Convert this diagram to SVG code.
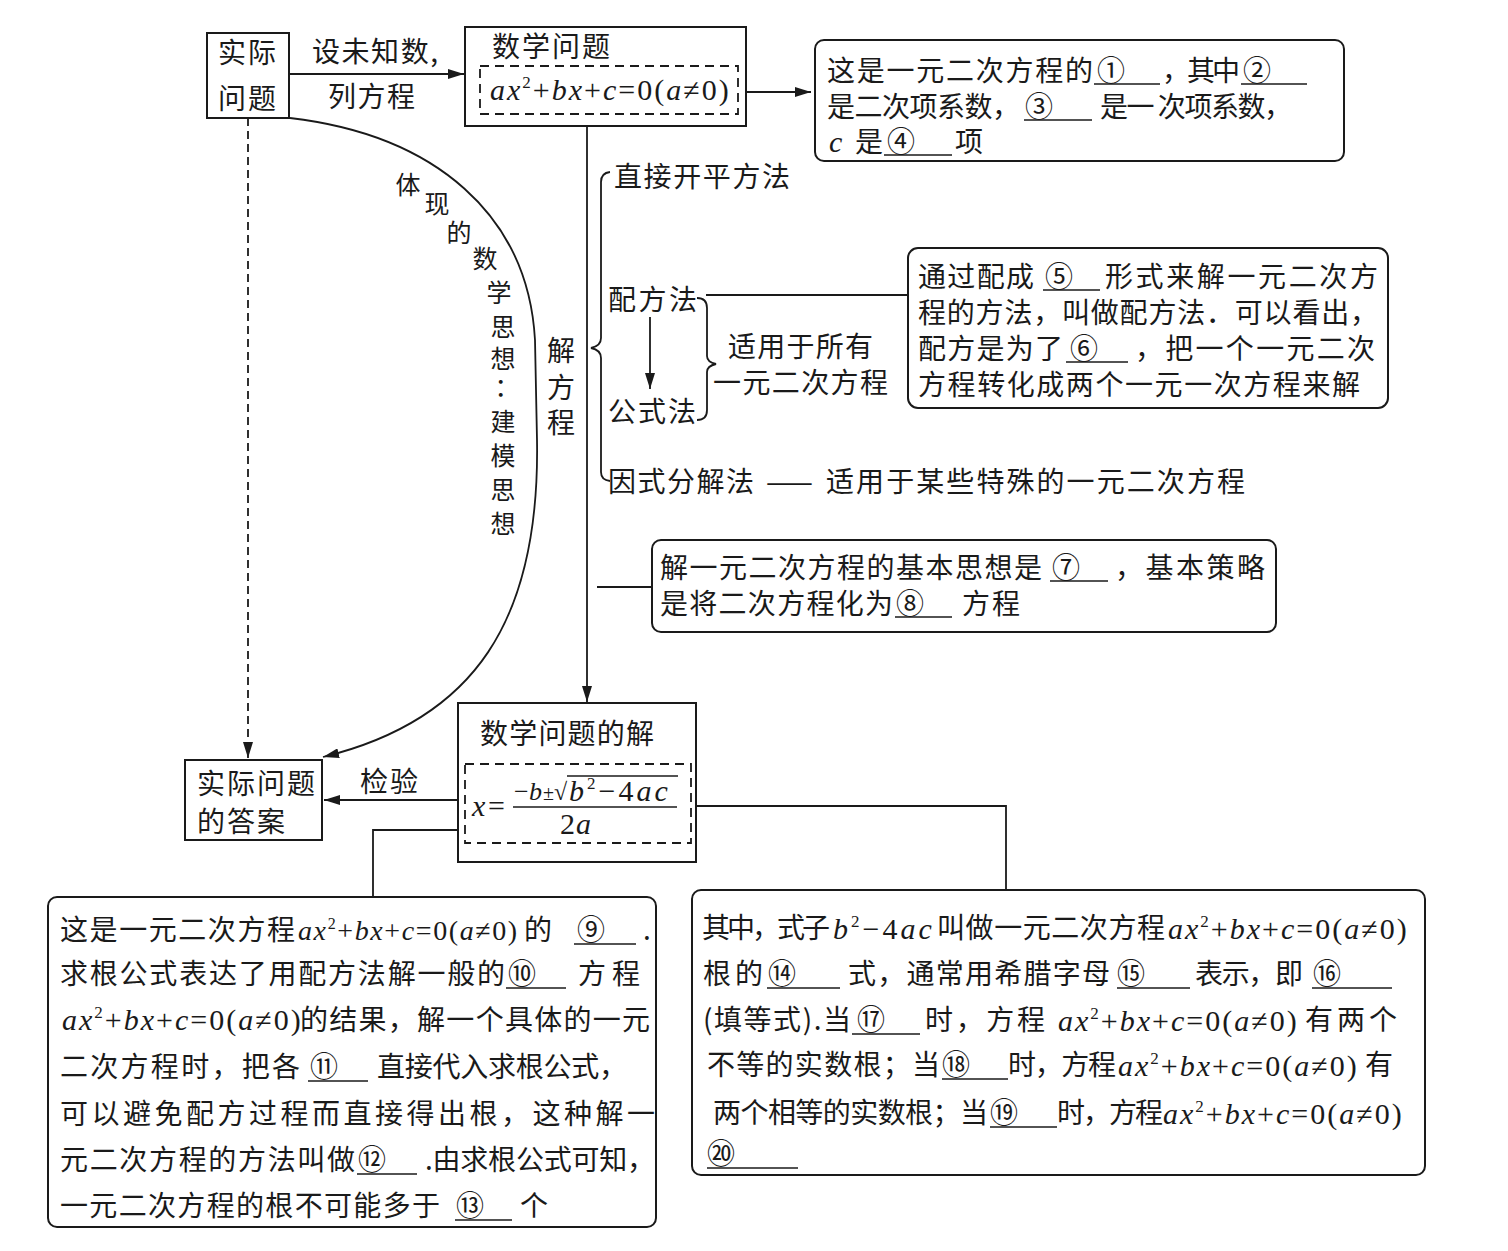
<svg xmlns="http://www.w3.org/2000/svg" width="1508" height="1251" viewBox="0 0 1508 1251">
<style>
.t{font-family:"Noto Sans CJK SC","Noto Sans",sans-serif;font-size:28px;fill:#1a1a1a}
.v{font-family:"Noto Sans CJK SC","Noto Sans",sans-serif;font-size:25px;fill:#1a1a1a}
.m{font-family:"Liberation Serif",serif;font-size:30px;fill:#1a1a1a;letter-spacing:2px}
.i{font-style:italic}
.b{fill:#fff;stroke:#1a1a1a;stroke-width:2}
.d{fill:none;stroke:#1a1a1a;stroke-width:1.8;stroke-dasharray:9 6}
.l{fill:none;stroke:#1a1a1a;stroke-width:1.8}
.u{stroke:#1a1a1a;stroke-width:1.6}
</style>
<defs>
<marker id="ah" viewBox="0 0 16 10" refX="16" refY="5" markerWidth="16" markerHeight="10" orient="auto" markerUnits="userSpaceOnUse"><path d="M0,0 L16,5 L0,10 z" fill="#1a1a1a"/></marker>
</defs>
<rect width="1508" height="1251" fill="#fff"/>

<g id="connectors">
<line class="l" x1="289" y1="74" x2="464" y2="74" marker-end="url(#ah)"/>
<line class="l" x1="738" y1="92" x2="811" y2="92" marker-end="url(#ah)"/>
<line class="l" x1="587" y1="126" x2="587" y2="702" marker-end="url(#ah)"/>
<path class="l" d="M610,172 Q601,173 601,182 L601,338 Q601,346 591,348 Q601,350 601,358 L601,472 Q601,480 610,481"/>
<line class="l" x1="650" y1="317" x2="650" y2="389" marker-end="url(#ah)"/>
<path class="l" d="M697,298 Q707,298 707,308 L707,356 Q707,362 716,364 Q707,366 707,372 L707,410 Q707,420 697,420"/>
<line class="l" x1="706" y1="295" x2="908" y2="295"/>
<line class="l" x1="597" y1="587" x2="652" y2="587"/>
<path class="l" d="M290,118 C435,135 528,215 535,340 L537,440 C540,620 475,720 323,757" marker-end="url(#ah)"/>
<line class="l" x1="248" y1="118" x2="248" y2="758" stroke-dasharray="8 5" marker-end="url(#ah)"/>
<line class="l" x1="458" y1="800" x2="324" y2="800" marker-end="url(#ah)"/>
<path class="l" d="M465,830 L373,830 L373,897"/>
<path class="l" d="M690,806 L1006,806 L1006,890"/>
</g>

<g id="n-real-problem">
<rect class="b" x="207" y="33" width="82" height="85"/>
<text class="t" x="248" y="63" text-anchor="middle" letter-spacing="2">实际</text>
<text class="t" x="248" y="109" text-anchor="middle" letter-spacing="2">问题</text>
</g>
<g id="lbl-setup">
<text class="t" x="312" y="62" textLength="126">设未知数,</text>
<text class="t" x="328" y="107" textLength="87">列方程</text>
</g>

<g id="n-math-problem">
<rect class="b" x="465" y="27" width="281" height="99"/>
<text class="t" x="492" y="57" textLength="118">数学问题</text>
<rect class="d" x="480" y="66" width="258" height="48"/>
<text class="m" x="490" y="100"><tspan class="i">ax</tspan><tspan dy="-12" font-size="17">2</tspan><tspan dy="12">+</tspan><tspan class="i">bx</tspan>+<tspan class="i">c</tspan>=0(<tspan class="i">a</tspan>≠0)</text>
</g>

<g id="n-note1">
<rect class="b" x="815" y="40" width="529" height="121" rx="9"/>
<text class="t" x="827" y="81" textLength="266">这是一元二次方程的</text>
<text class="t" x="1097" y="81">①</text>
<line class="u" x1="1094" y1="84" x2="1160" y2="84"/>
<text class="t" x="1162" y="81" textLength="78">，其中</text>
<text class="t" x="1243" y="81">②</text>
<line class="u" x1="1241" y1="84" x2="1307" y2="84"/>
<text class="t" x="827" y="117" textLength="193">是二次项系数，</text>
<text class="t" x="1025" y="117">③</text>
<line class="u" x1="1024" y1="120" x2="1092" y2="120"/>
<text class="t" x="1100" y="117" textLength="192">是一 次项系数，</text>
<text class="m i" x="829" y="152">c</text>
<text class="t" x="855" y="152">是</text>
<text class="t" x="887" y="152">④</text>
<line class="u" x1="884" y1="155" x2="952" y2="155"/>
<text class="t" x="955" y="152">项</text>
</g>

<g id="n-methods">
<text class="t" x="614" y="187" textLength="176">直接开平方法</text>
<text class="t" x="608" y="310" textLength="89">配方法</text>
<text class="t" x="608" y="422" textLength="88">公式法</text>
<text class="t" x="728" y="357" textLength="145">适用于所有</text>
<text class="t" x="713" y="393" textLength="175">一元二次方程</text>
<text class="t" x="608" y="492" textLength="146">因式分解法</text>
<text class="t" x="766" y="492" textLength="56">——</text>
<text class="t" x="826" y="492" textLength="419">适用于某些特殊的一元二次方程</text>
</g>

<g id="lbl-solve">
<text class="t" x="561" y="361" text-anchor="middle">解</text>
<text class="t" x="561" y="398" text-anchor="middle">方</text>
<text class="t" x="561" y="433" text-anchor="middle">程</text>
</g>

<g id="lbl-modeling" text-anchor="middle">
<text class="v" x="408" y="194">体</text>
<text class="v" x="437" y="213">现</text>
<text class="v" x="459" y="242">的</text>
<text class="v" x="485" y="268">数</text>
<text class="v" x="499" y="302">学</text>
<text class="v" x="503" y="336">思</text>
<text class="v" x="503" y="368">想</text>
<text class="v" x="507" y="396">：</text>
<text class="v" x="503" y="431">建</text>
<text class="v" x="503" y="465">模</text>
<text class="v" x="503" y="499">思</text>
<text class="v" x="503" y="533">想</text>
</g>

<g id="n-peifang-note">
<rect class="b" x="908" y="248" width="480" height="160" rx="10"/>
<text class="t" x="918" y="287" textLength="116">通过配成</text>
<text class="t" x="1045" y="287">⑤</text>
<line class="u" x1="1043" y1="290" x2="1100" y2="290"/>
<text class="t" x="1105" y="287" textLength="273">形式来解一元二次方</text>
<text class="t" x="918" y="323" textLength="460">程的方法，叫做配方法．可以看出，</text>
<text class="t" x="918" y="359" textLength="145">配方是为了</text>
<text class="t" x="1070" y="359">⑥</text>
<line class="u" x1="1066" y1="362" x2="1128" y2="362"/>
<text class="t" x="1135" y="359" textLength="240">，把一个一元二次</text>
<text class="t" x="918" y="395" textLength="442">方程转化成两个一元一次方程来解</text>
</g>

<g id="n-idea-note">
<rect class="b" x="652" y="540" width="624" height="92" rx="9"/>
<text class="t" x="660" y="578" textLength="382">解一元二次方程的基本思想是</text>
<text class="t" x="1052" y="578">⑦</text>
<line class="u" x1="1050" y1="581" x2="1108" y2="581"/>
<text class="t" x="1115" y="578" textLength="150">，基本策略</text>
<text class="t" x="660" y="614" textLength="233">是将二次方程化为</text>
<text class="t" x="896" y="614">⑧</text>
<line class="u" x1="895" y1="617" x2="952" y2="617"/>
<text class="t" x="962" y="614" textLength="58">方程</text>
</g>

<g id="n-solution">
<rect class="b" x="458" y="703" width="238" height="159"/>
<text class="t" x="480" y="744" textLength="174">数学问题的解</text>
<rect class="d" x="465" y="764" width="226" height="79"/>
<text class="m i" x="472" y="816" style="letter-spacing:0">x</text>
<text class="m" x="488" y="816" style="letter-spacing:0">=</text>
<text class="m" x="514" y="800" style="font-size:26px;letter-spacing:0">−</text>
<text class="m i" x="529" y="800" style="font-size:26px;letter-spacing:0">b</text>
<text class="m" x="543" y="800" style="font-size:20px;letter-spacing:0">±</text>
<text class="m" x="554" y="800" style="font-size:24px;letter-spacing:0">√</text>
<line class="u" x1="567" y1="776" x2="678" y2="776"/>
<text class="m" x="569" y="801" style="letter-spacing:3px"><tspan class="i">b</tspan><tspan dy="-12" font-size="17">2</tspan><tspan dy="12">−4</tspan><tspan class="i">ac</tspan></text>
<line class="u" x1="513" y1="807" x2="677" y2="807"/>
<text class="m" x="560" y="834" style="letter-spacing:1px">2<tspan class="i">a</tspan></text>
</g>

<g id="n-answer">
<rect class="b" x="185" y="760" width="137" height="80"/>
<text class="t" x="197" y="794" textLength="118">实际问题</text>
<text class="t" x="197" y="832" textLength="88">的答案</text>
</g>
<g id="lbl-check">
<text class="t" x="360" y="792" textLength="58">检验</text>
</g>

<g id="n-formula-note">
<rect class="b" x="48" y="897" width="608" height="330" rx="9"/>
<text class="t" x="60" y="940" textLength="235">这是一元二次方程</text>
<text class="m" x="298" y="940" style="font-size:28px;letter-spacing:1.6px"><tspan class="i">ax</tspan><tspan dy="-11" font-size="16">2</tspan><tspan dy="11">+</tspan><tspan class="i">bx</tspan>+<tspan class="i">c</tspan>=0(<tspan class="i">a</tspan>≠0)</text>
<text class="t" x="524" y="940">的</text>
<text class="t" x="577" y="940">⑨</text>
<line class="u" x1="574" y1="944" x2="636" y2="944"/>
<text class="t" x="643" y="940">.</text>
<text class="t" x="60" y="984" textLength="445">求根公式表达了用配方法解一般的</text>
<text class="t" x="508" y="984">⑩</text>
<line class="u" x1="506" y1="988" x2="566" y2="988"/>
<text class="t" x="578" y="984">方</text>
<text class="t" x="612" y="984">程</text>
<text class="m" x="62" y="1030"><tspan class="i">ax</tspan><tspan dy="-12" font-size="17">2</tspan><tspan dy="12">+</tspan><tspan class="i">bx</tspan>+<tspan class="i">c</tspan>=0(<tspan class="i">a</tspan>≠0)</text>
<text class="t" x="300" y="1030" textLength="350">的结果，解一个具体的一元</text>
<text class="t" x="60" y="1077" textLength="240">二次方程时，把各</text>
<text class="t" x="310" y="1077">⑪</text>
<line class="u" x1="308" y1="1081" x2="368" y2="1081"/>
<text class="t" x="377" y="1077" textLength="250">直接代入求根公式，</text>
<text class="t" x="60" y="1124" textLength="595">可以避免配方过程而直接得出根，这种解一</text>
<text class="t" x="60" y="1170" textLength="295">元二次方程的方法叫做</text>
<text class="t" x="358" y="1170">⑫</text>
<line class="u" x1="357" y1="1174" x2="417" y2="1174"/>
<text class="t" x="425" y="1170" textLength="230">.由求根公式可知，</text>
<text class="t" x="60" y="1216" textLength="380">一元二次方程的根不可能多于</text>
<text class="t" x="456" y="1216">⑬</text>
<line class="u" x1="455" y1="1220" x2="512" y2="1220"/>
<text class="t" x="520" y="1216">个</text>
</g>

<g id="n-discriminant-note">
<rect class="b" x="692" y="890" width="733" height="285" rx="9"/>
<text class="t" x="702" y="938" textLength="128">其中，式子</text>
<text class="m" x="833" y="939" style="letter-spacing:3px"><tspan class="i">b</tspan><tspan dy="-12" font-size="17">2</tspan><tspan dy="12">−4</tspan><tspan class="i">ac</tspan></text>
<text class="t" x="937" y="938" textLength="228">叫做一元二次方程</text>
<text class="m" x="1168" y="939"><tspan class="i">ax</tspan><tspan dy="-12" font-size="17">2</tspan><tspan dy="12">+</tspan><tspan class="i">bx</tspan>+<tspan class="i">c</tspan>=0(<tspan class="i">a</tspan>≠0)</text>
<text class="t" x="703" y="984" textLength="60">根的</text>
<text class="t" x="768" y="984">⑭</text>
<line class="u" x1="767" y1="988" x2="840" y2="988"/>
<text class="t" x="848" y="984" textLength="262">式，通常用希腊字母</text>
<text class="t" x="1117" y="984">⑮</text>
<line class="u" x1="1117" y1="988" x2="1190" y2="988"/>
<text class="t" x="1195" y="984" textLength="108">表示，即</text>
<text class="t" x="1313" y="984">⑯</text>
<line class="u" x1="1312" y1="988" x2="1392" y2="988"/>
<text class="t" x="703" y="1030" textLength="148">(填等式).当</text>
<text class="t" x="857" y="1030">⑰</text>
<line class="u" x1="852" y1="1034" x2="920" y2="1034"/>
<text class="t" x="925" y="1030" textLength="120">时，方程</text>
<text class="m" x="1058" y="1031"><tspan class="i">ax</tspan><tspan dy="-12" font-size="17">2</tspan><tspan dy="12">+</tspan><tspan class="i">bx</tspan>+<tspan class="i">c</tspan>=0(<tspan class="i">a</tspan>≠0)</text>
<text class="t" x="1305" y="1030" textLength="92">有两个</text>
<text class="t" x="707" y="1075" textLength="233">不等的实数根；当</text>
<text class="t" x="942" y="1075">⑱</text>
<line class="u" x1="942" y1="1079" x2="1008" y2="1079"/>
<text class="t" x="1008" y="1075" textLength="108">时，方程</text>
<text class="m" x="1118" y="1076"><tspan class="i">ax</tspan><tspan dy="-12" font-size="17">2</tspan><tspan dy="12">+</tspan><tspan class="i">bx</tspan>+<tspan class="i">c</tspan>=0(<tspan class="i">a</tspan>≠0)</text>
<text class="t" x="1365" y="1075">有</text>
<text class="t" x="713" y="1123" textLength="275">两个相等的实数根；当</text>
<text class="t" x="990" y="1123">⑲</text>
<line class="u" x1="990" y1="1127" x2="1057" y2="1127"/>
<text class="t" x="1057" y="1123" textLength="106">时，方程</text>
<text class="m" x="1163" y="1124"><tspan class="i">ax</tspan><tspan dy="-12" font-size="17">2</tspan><tspan dy="12">+</tspan><tspan class="i">bx</tspan>+<tspan class="i">c</tspan>=0(<tspan class="i">a</tspan>≠0)</text>
<text class="t" x="707" y="1164">⑳</text>
<line class="u" x1="707" y1="1168" x2="798" y2="1168"/>
</g>
</svg>
